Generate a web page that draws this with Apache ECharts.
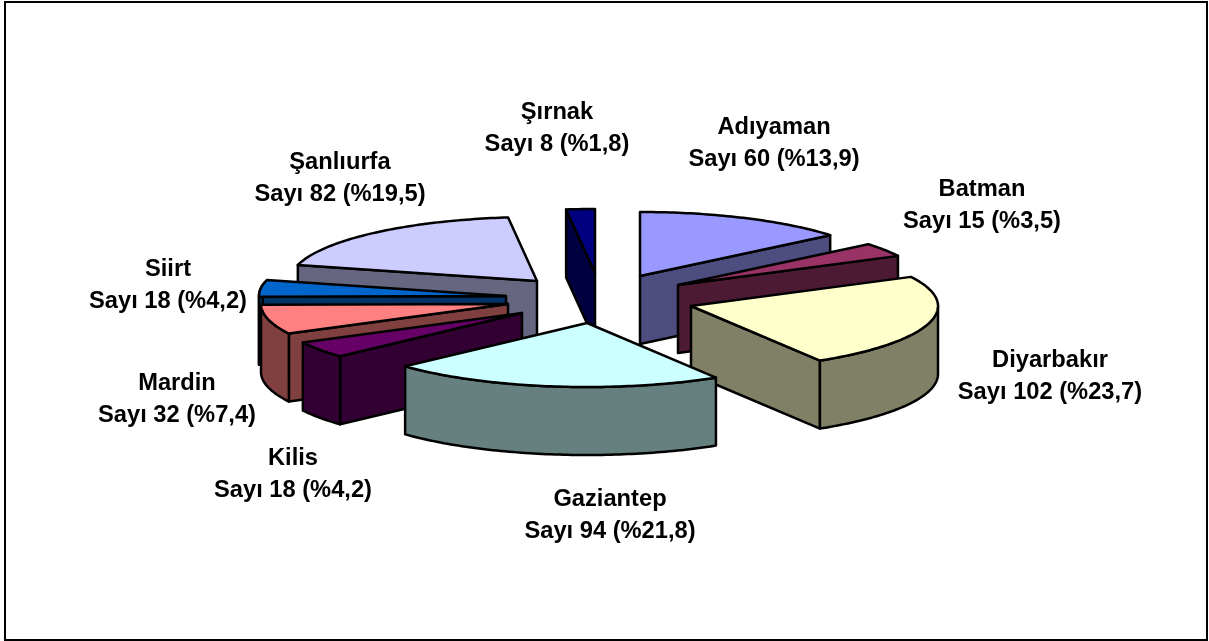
<!DOCTYPE html>
<html>
<head>
<meta charset="utf-8">
<style>html,body{margin:0;padding:0;background:#fff}#c{width:1209px;height:641px}</style>
<script src="https://cdn.jsdelivr.net/npm/echarts@6/dist/echarts.min.js"></script>
</head>
<body>
<div id="c"></div>
<script>
const categories = ['Adıyaman','Batman','Diyarbakır','Gaziantep','Kilis','Mardin','Siirt','Şanlıurfa','Şırnak'];
const counts = [60,15,102,94,18,32,18,82,8];
const percents = ['13,9','3,5','23,7','21,8','4,2','7,4','4,2','19,5','1,8'];
const countWord = 'Sayı';

// Styling and layout of the exploded 3D pie
const topColors = ['#9999FF','#993366','#FFFFCC','#CCFFFF','#660066','#FF8080','#0066CC','#CCCCFF','#000080'];
const wallColors = ['#4D4D80','#4D1A33','#808066','#668080','#330033','#804040','#003366','#666680','#000040'];
const apexX = [640,678,691,587,522,508,506,537,595];
const apexY = [276,285,306,323,313,304,296,281,273];
const labelX = [774,982,1050,610,293,177,168,340,557];
const labelY = [143,205,376,515,474,399,285,178,128];
const paintOrder = [8,0,7,1,6,5,4,2,3];
const RX = 247, RY = 64, DEPTH = 68;
const FONT = 'bold 23.7px "Liberation Sans", Arial, sans-serif';

const total = counts.reduce((a,b)=>a+b,0);
const cumBefore = [];
counts.reduce((a,b,i)=>{cumBefore[i]=a;return a+b;},0);

function pt(ax,ay,deg,drop){
  const r = deg*Math.PI/180;
  return [ax+RX*Math.sin(r), ay-RY*Math.cos(r)+(drop||0)];
}
function arc(ax,ay,a,b,drop){
  const pts=[]; const n=Math.max(2,Math.ceil(Math.abs(b-a)));
  for(let i=0;i<=n;i++) pts.push(pt(ax,ay,a+(b-a)*i/n,drop));
  return pts;
}
const edge = {stroke:'#000',lineWidth:2.5,lineJoin:'round'};
function poly(points,fill){
  return {type:'polygon',shape:{points},style:Object.assign({fill},edge)};
}

function renderItem(params,api){
  const value = api.value(0), before = api.value(1), idx = api.value(2);
  const a = before/total*360, b = (before+value)/total*360;
  const ax = apexX[idx], ay = apexY[idx];
  const wall = wallColors[idx];
  const kids = [];
  // radial wall on the start edge
  if(Math.sin(a*Math.PI/180) < 0){
    const p=pt(ax,ay,a);
    kids.push(poly([[ax,ay],p,[p[0],p[1]+DEPTH],[ax,ay+DEPTH]],wall));
  }
  // radial wall on the end edge
  if(Math.sin(b*Math.PI/180) > 0){
    const p=pt(ax,ay,b);
    kids.push(poly([[ax,ay],p,[p[0],p[1]+DEPTH],[ax,ay+DEPTH]],wall));
  }
  // outer curved wall
  const oa=Math.max(a,90), ob=Math.min(b,280);
  if(ob>oa){
    kids.push(poly(arc(ax,ay,oa,ob,0).concat(arc(ax,ay,ob,oa,DEPTH)),wall));
  }
  // top face
  kids.push(poly([[ax,ay]].concat(arc(ax,ay,a,b,0)),topColors[idx]));
  // label
  kids.push({type:'text',z2:100,style:{
    x:labelX[idx],y:labelY[idx],
    text:categories[idx]+'\n'+countWord+' '+value+' (%'+percents[idx]+')',
    font:FONT,fill:'#000',align:'center',verticalAlign:'middle',lineHeight:32
  }});
  return {type:'group',children:kids};
}

const chart = echarts.init(document.getElementById('c'),null,{renderer:'canvas'});
chart.setOption({
  animation:false,
  backgroundColor:'#fff',
  graphic:[{type:'rect',silent:true,shape:{x:5,y:2,width:1202,height:638},style:{fill:'none',stroke:'#000',lineWidth:2}}],
  series:[{
    type:'custom',
    coordinateSystem:'none',
    clip:false,
    silent:true,
    renderItem,
    data:paintOrder.map(i=>[counts[i],cumBefore[i],i])
  }]
});
</script>
</body>
</html>
